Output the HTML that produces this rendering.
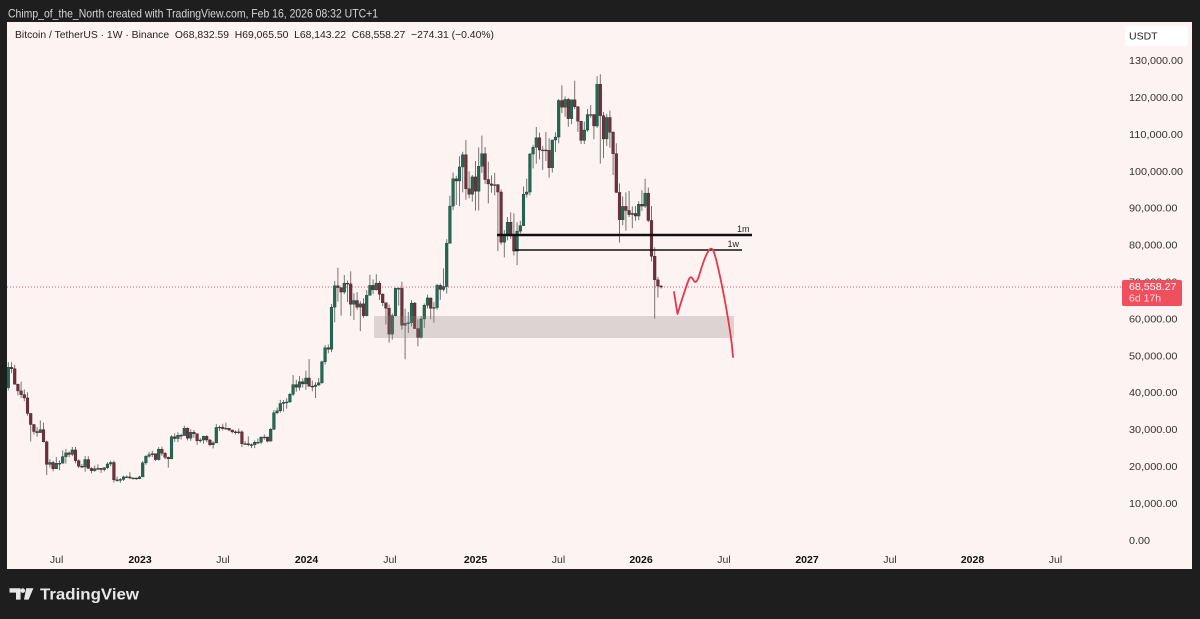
<!DOCTYPE html>
<html>
<head>
<meta charset="utf-8">
<style>
  html,body{margin:0;padding:0;background:#1e1e1e;}
  svg{display:block;}
  text{font-family:"Liberation Sans",Arial,sans-serif;}
</style>
</head>
<body>
<svg id="c" width="1200" height="619" viewBox="0 0 1200 619" xmlns="http://www.w3.org/2000/svg">
  <defs>
    <clipPath id="plot"><rect x="7" y="22" width="1110" height="547"/></clipPath>
  </defs>
  <rect x="0" y="0" width="1200" height="619" fill="#1e1e1e"/>
  <rect x="7" y="22" width="1185" height="547" fill="#fdf3f2"/>

  <!-- header -->
  <text x="8" y="17.5" font-size="12" fill="#d6d6d6" textLength="370" lengthAdjust="spacingAndGlyphs">Chimp_of_the_North created with TradingView.com, Feb 16, 2026 08:32 UTC+1</text>
  <text x="15" y="38" font-size="10.5" fill="#222" textLength="479" lengthAdjust="spacingAndGlyphs" xml:space="preserve">Bitcoin / TetherUS · 1W · Binance  O68,832.59  H69,065.50  L68,143.22  C68,558.27  −274.31 (−0.40%)</text>

  <!-- current price dotted line -->
  <line x1="7" y1="287" x2="1122" y2="287" stroke="#ef5a68" stroke-width="0.9" stroke-dasharray="1 2"/>

  <g id="candles" clip-path="url(#plot)"></g>

  <!-- grey zone -->
  <rect x="374" y="316" width="360" height="22" fill="#8c8080" fill-opacity="0.28"/>

  <!-- horizontal levels -->
  <line x1="497" y1="235" x2="752" y2="235" stroke="#111" stroke-width="2.4"/>
  <text x="737" y="232" font-size="9" fill="#222">1m</text>
  <line x1="515" y1="250" x2="742" y2="250" stroke="#111" stroke-width="1.5"/>
  <text x="727.5" y="247" font-size="9" fill="#222">1w</text>

  <!-- red projection -->
  <path d="M674,292 L677.5,314 C680,306 684,292 689,279 C690.5,276 692,277 694,281 C695.5,283 697,282 699,276 C702,266 705,256 709,250 C710.5,248 712,248 713.5,251 C717,260 720,276 724,296 C727,312 730,330 731.8,344 L733,357" fill="none" stroke="#e8364a" stroke-width="1.8" stroke-linejoin="round" stroke-linecap="round"/>

  <!-- price axis -->
  <rect x="1125" y="26" width="63" height="20" rx="3" fill="#ffffff"/>
  <text x="1129" y="39.5" font-size="10.5" fill="#222">USDT</text>
  <g font-size="10.5" fill="#333">
    <text x="1129" y="64.1" textLength="54" lengthAdjust="spacingAndGlyphs">130,000.00</text>
    <text x="1129" y="101" textLength="54" lengthAdjust="spacingAndGlyphs">120,000.00</text>
    <text x="1129" y="137.9" textLength="54" lengthAdjust="spacingAndGlyphs">110,000.00</text>
    <text x="1129" y="174.8" textLength="54" lengthAdjust="spacingAndGlyphs">100,000.00</text>
    <text x="1129" y="211.7" textLength="48.5" lengthAdjust="spacingAndGlyphs">90,000.00</text>
    <text x="1129" y="248.6" textLength="48.5" lengthAdjust="spacingAndGlyphs">80,000.00</text>
    <text x="1129" y="285.5" textLength="48.5" lengthAdjust="spacingAndGlyphs">70,000.00</text>
    <text x="1129" y="322.4" textLength="48.5" lengthAdjust="spacingAndGlyphs">60,000.00</text>
    <text x="1129" y="359.3" textLength="48.5" lengthAdjust="spacingAndGlyphs">50,000.00</text>
    <text x="1129" y="396.2" textLength="48.5" lengthAdjust="spacingAndGlyphs">40,000.00</text>
    <text x="1129" y="433.1" textLength="48.5" lengthAdjust="spacingAndGlyphs">30,000.00</text>
    <text x="1129" y="470" textLength="48.5" lengthAdjust="spacingAndGlyphs">20,000.00</text>
    <text x="1129" y="506.9" textLength="48.5" lengthAdjust="spacingAndGlyphs">10,000.00</text>
    <text x="1129" y="543.8" textLength="21" lengthAdjust="spacingAndGlyphs">0.00</text>
  </g>
  <!-- price tag -->
  <rect x="1122" y="280" width="60" height="26" rx="2" fill="#f0505e"/>
  <text x="1129" y="290" font-size="10.5" fill="#ffffff" textLength="47.5" lengthAdjust="spacingAndGlyphs">68,558.27</text>
  <text x="1129" y="301.5" font-size="10.5" fill="#ffdadd">6d 17h</text>

  <!-- time axis -->
  <g font-size="10.5" text-anchor="middle">
    <text x="56.6" y="563" fill="#333">Jul</text>
    <text x="140" y="563" fill="#111" font-weight="bold">2023</text>
    <text x="223" y="563" fill="#333">Jul</text>
    <text x="306.5" y="563" fill="#111" font-weight="bold">2024</text>
    <text x="390" y="563" fill="#333">Jul</text>
    <text x="475.5" y="563" fill="#111" font-weight="bold">2025</text>
    <text x="558.5" y="563" fill="#333">Jul</text>
    <text x="641" y="563" fill="#111" font-weight="bold">2026</text>
    <text x="724" y="563" fill="#333">Jul</text>
    <text x="807" y="563" fill="#111" font-weight="bold">2027</text>
    <text x="890" y="563" fill="#333">Jul</text>
    <text x="972.5" y="563" fill="#111" font-weight="bold">2028</text>
    <text x="1055.5" y="563" fill="#333">Jul</text>
  </g>

  <!-- TradingView logo -->
  <g fill="#e8e8e8">
    <path d="M9.5,588.3 H20.6 V599.6 H16 V592.6 H9.5 Z"/>
    <circle cx="22.8" cy="590.6" r="2.3"/>
    <path d="M26.2,588.3 H33.4 L28.6,599.6 H24 Z"/>
  </g>
  <text x="40" y="599.5" font-size="16" font-weight="bold" fill="#e8e8e8" textLength="99" lengthAdjust="spacingAndGlyphs">TradingView</text>
</svg>

<script>
(function(){
  var firstOpen = 41.3;
  var d = [
  [48.2,40.5,46.8],[48.2,45.2,46.4],[47.5,42.1,42.2],[42.4,39.2,40.4],[42.9,38.5,39.4],[40.8,37.6,38.5],
  [40.0,33.7,34.3],[34.3,26.7,31.3],[31.4,28.6,29.4],[30.6,28.0,29.1],[32.4,29.3,29.9],[31.8,26.5,26.6],
  [26.9,17.6,20.5],[21.9,19.6,21.0],[21.5,18.6,19.3],[22.5,19.2,20.8],[21.6,18.9,20.8],[24.3,20.8,22.6],
  [24.7,20.7,23.6],[24.0,22.4,23.2],[25.2,22.7,24.4],[25.2,20.8,21.5],[21.9,19.5,20.0],[20.6,19.5,19.8],
  [22.8,18.5,21.8],[22.7,19.3,19.4],[19.7,18.1,18.8],[20.2,18.5,19.3],[20.5,18.9,19.4],[19.5,18.2,19.1],
  [19.7,18.6,19.6],[21.1,19.2,20.6],[21.5,20.0,21.0],[21.5,15.6,16.3],[17.2,15.8,16.3],[16.8,15.5,16.4],
  [17.4,16.0,17.1],[17.5,16.9,17.1],[18.4,16.5,16.8],[17.0,16.4,16.8],[16.9,16.3,16.6],
  [17.4,16.5,17.1],[21.4,17.2,20.9],[23.0,20.4,22.7],[23.9,22.3,23.1],[24.2,22.5,23.4],[23.4,21.4,21.8],
  [25.2,21.5,24.6],[25.3,22.8,23.5],[23.9,21.9,22.4],[22.6,19.6,22.0],[28.4,21.9,28.0],[28.9,26.6,27.5],
  [29.2,26.5,28.4],[28.8,27.2,28.3],[31.0,28.3,30.3],[30.5,27.0,27.6],[30.0,26.9,29.2],[29.8,27.7,28.8],
  [28.9,25.8,26.9],[27.6,26.4,27.1],[28.3,26.1,28.1],[28.4,26.5,27.1],[27.4,25.4,25.8],[26.8,24.8,26.3],
  [31.4,26.3,30.5],[31.0,29.5,30.6],[31.5,29.7,30.2],[31.8,29.9,30.3],[30.3,29.5,29.8],[29.9,28.9,29.3],
  [29.7,28.6,29.1],[30.2,28.7,29.3],[29.7,25.2,26.1],[26.8,25.8,26.1],[28.1,25.4,25.8],[26.2,24.9,25.8],
  [27.0,24.9,26.5],[27.5,26.0,26.5],[28.0,26.0,27.9],[28.6,27.2,27.9],[28.0,26.5,26.8],[30.4,26.7,30.0],
  [35.2,29.8,34.5],[35.9,34.1,35.0],[38.0,34.5,37.0],[37.9,34.8,37.3],[38.4,35.6,37.4],[39.9,37.2,39.5],
  [44.7,39.0,42.1],[43.4,40.2,41.4],[44.4,40.5,42.9],[43.8,41.3,42.3],
  [45.9,40.7,43.9],[49.0,41.5,41.7],[43.2,40.3,41.6],[42.8,38.5,42.0],[43.9,41.8,42.6],[48.6,42.3,48.3],
  [52.8,47.6,52.1],[53.0,50.6,51.7],[64.0,50.9,63.1],[70.2,59.0,68.9],[73.8,64.6,68.4],[68.1,60.8,67.2],
  [71.8,66.6,69.6],[70.3,64.5,69.4],[72.8,60.7,63.9],[66.9,59.6,64.9],[67.2,62.4,63.1],[64.7,56.6,64.0],
  [65.5,60.2,60.8],[67.7,60.6,66.3],[71.9,66.7,69.0],[70.6,66.6,67.8],[72.0,67.6,69.6],[70.2,65.0,66.6],
  [66.9,63.4,64.3],[63.0,58.4,62.8],[63.8,53.5,55.8],[61.4,54.3,60.8],[68.4,60.6,68.2],[68.5,63.5,68.2],
  [70.0,57.0,58.2],[62.7,49.0,58.7],[61.8,56.1,58.9],[65.0,57.9,64.2],[64.5,57.2,57.3],[59.8,52.5,54.9],
  [60.7,54.6,59.9],[64.1,57.5,63.6],[66.5,62.7,65.6],[65.0,59.8,62.8],[64.5,58.9,63.0],[69.4,62.4,69.0],
  [69.5,65.1,67.9],[73.6,67.4,68.7],[81.5,66.8,80.4],[93.3,80.3,90.5],[99.6,89.4,97.9],[98.7,90.8,97.3],
  [104.0,90.5,101.1],[105.2,94.2,104.4],[108.4,92.2,95.2],[99.9,92.6,93.7],[98.9,91.7,98.4],
  [102.7,89.3,94.5],[106.4,89.3,101.3],[109.6,99.5,104.7],[106.5,96.5,97.7],[102.5,91.2,96.5],[98.8,94.1,96.1],
  [99.5,93.4,96.3],[96.5,78.3,94.3],[95.0,80.0,80.7],[84.0,76.6,82.6],[87.5,81.2,86.1],[88.8,81.6,82.4],
  [88.5,77.1,78.3],[86.1,74.5,83.7],[86.5,83.1,85.2],[95.8,85.1,93.7],[97.9,92.8,94.3],[104.9,93.4,104.6],
  [107.1,100.7,106.4],[111.9,102.0,109.0],[110.4,103.1,105.7],[106.8,100.3,105.7],[110.6,102.7,105.6],[108.9,98.2,100.9],
  [108.5,99.6,108.4],[110.5,105.1,109.2],[119.5,107.5,119.1],[123.2,115.7,117.3],[120.2,114.7,119.4],[119.8,112.0,114.2],
  [119.3,112.7,119.3],[124.5,116.8,117.4],[117.6,110.6,113.5],[113.6,107.3,108.3],[113.4,107.3,111.1],[116.8,110.6,115.3],
  [117.9,114.4,115.3],[115.4,108.6,112.2],[125.7,111.7,123.5],[126.2,102.0,115.0],[116.0,103.5,108.7],[115.5,106.8,114.5],
  [116.4,106.3,110.5],[110.8,98.9,104.7],[107.5,94.0,94.2],[96.6,80.6,86.8],[93.1,85.3,90.4],[94.2,83.8,89.3],
  [94.6,87.5,88.2],[90.4,84.5,88.5],[90.5,86.5,87.8],[91.8,86.7,91.0],
  [94.8,89.2,90.5],[97.9,90.0,94.0],[95.5,86.1,86.6],[90.5,75.5,76.9],[79.3,60.0,70.5],[71.3,65.7,68.83],
  [69.07,68.14,68.56]
  ];
  function Y(p){ return 540 - p*3.69; }
  var g = document.getElementById("candles");
  var o = firstOpen, html = "";
  for (var i=0;i<d.length;i++){
    var n = -41 + i;
    var x = 139.5 + n*3.2;
    var h=d[i][0], l=d[i][1], c=d[i][2];
    var up = c >= o;
    var top = Y(Math.max(o,c)), bot = Y(Math.min(o,c));
    var hh = Math.max(0.9, bot-top);
    html += '<line x1="'+x.toFixed(2)+'" y1="'+Y(h).toFixed(2)+'" x2="'+x.toFixed(2)+'" y2="'+Y(l).toFixed(2)+'" stroke="#6e6e6e" stroke-width="0.95"/>';
    html += '<rect x="'+(x-1.35).toFixed(2)+'" y="'+top.toFixed(2)+'" width="2.7" height="'+hh.toFixed(2)+'" fill="'+(up?'#1e6c55':'#72303e')+'" stroke="'+(up?'#163a2f':'#3a1c22')+'" stroke-width="0.4"/>';
    o = c;
  }
  g.innerHTML = html;
})();
</script>
</body>
</html>
